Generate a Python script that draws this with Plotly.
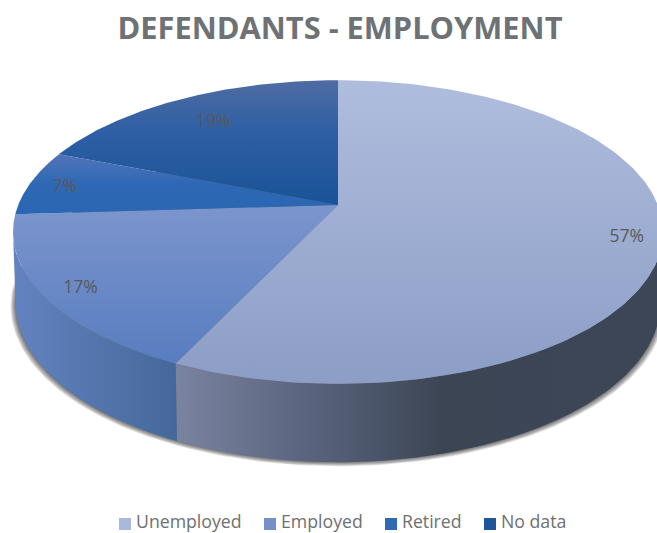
import numpy as np
import plotly.graph_objects as go

# ---- data ----
categories = ["Unemployed", "Employed", "Retired", "No data"]
values = [57, 17, 7, 19]
chart_title = "DEFENDANTS - EMPLOYMENT"

# ---- style ----
top_gradients = [
    [[0, "#afbddd"], [1, "#8c9dc6"]],
    [[0, "#7c95cd"], [1, "#587dc0"]],
    [[0, "#5274b8"], [0.5, "#2e68b4"], [1, "#2a66b3"]],
    [[0, "#4f6ca2"], [0.4, "#2f5fa4"], [1, "#195397"]],
]
wall_gradients = [
    [[0, "#7a84a0"], [0.25, "#5c6680"], [0.55, "#3c4554"], [1, "#3d4657"]],
    [[0, "#6283c0"], [1, "#45689a"]],
]
legend_colors = ["#a9b9db", "#7590c9", "#2f69b4", "#1f5599"]
legend_x = [125, 270, 391, 490]
label_radius = [0.89, 0.89, 0.89, 0.78]

# ---- projection of the pie disc on the page ----
CX, CY = 338.0, 205.0
K, KY, C = 319.8, 147.0, 0.178
DEPTH = 70.0


def top(theta, r=1.0):
    u, v = r * np.sin(theta), r * np.cos(theta)
    w = 1 + C * v
    return CX + K * u / w, CY - KY * v / w


def bottom(theta, grow=0.0):
    u, v = np.sin(theta), np.cos(theta)
    x, y = top(theta)
    d = DEPTH / (1 + 0.6 * C * v)
    return CX + (x - CX) * (0.992 + grow / 325), y + d + grow * (0.5 - 0.3 * v)


fracs = np.array(values, dtype=float) / sum(values)
edges = np.concatenate([[0], np.cumsum(fracs)]) * 2 * np.pi
right_tan = np.arccos(-C)
left_tan = 2 * np.pi - right_tan

fig = go.Figure()

# soft shadow beneath the disc
theta_all = np.linspace(0, 2 * np.pi, 361)
for g in [5, 4, 3, 2, 1, 0.4]:
    x, y = bottom(theta_all, g)
    fig.add_trace(go.Scatter(x=x, y=y, mode="lines", fill="toself", line=dict(width=0),
                             fillcolor="rgba(50,52,50,0.16)", hoverinfo="skip", showlegend=False))

# side walls of the front slices
for i in range(len(values)):
    a = max(edges[i], right_tan)
    b = min(edges[i + 1], left_tan)
    if b <= a or i >= len(wall_gradients):
        continue
    t = np.linspace(a, b, 120)
    xt, yt = top(t)
    xb, yb = bottom(t)
    x = np.concatenate([xt, xb[::-1]])
    y = np.concatenate([yt, yb[::-1]])
    fig.add_trace(go.Scatter(
        x=x, y=y, mode="lines", line=dict(width=0), fill="toself", hoverinfo="skip", showlegend=False,
        fillgradient=dict(type="horizontal", colorscale=wall_gradients[i],
                          start=float(x.min()), stop=float(x.max()))))

# top faces
for i in range(len(values)):
    t = np.linspace(edges[i], edges[i + 1], 160)
    xa, ya = top(t)
    x = np.concatenate([[CX], xa, [CX]])
    y = np.concatenate([[CY], ya, [CY]])
    fig.add_trace(go.Scatter(
        x=x, y=y, mode="lines", line=dict(width=0), fill="toself", name=categories[i],
        hoverinfo="skip", showlegend=False,
        fillgradient=dict(type="vertical", colorscale=top_gradients[i],
                          start=float(y.min()), stop=float(y.max()))))

# percentage labels
mid = (edges[:-1] + edges[1:]) / 2
lx, ly = top(mid, np.array(label_radius))
fig.add_trace(go.Scatter(
    x=lx + 1, y=ly + 3, mode="text", text=[f"{v}%" for v in values], hoverinfo="skip", showlegend=False,
    textfont=dict(family="Open Sans", size=17.5, color="#595959")))

# legend row
for name, col, lxx in zip(categories, legend_colors, legend_x):
    fig.add_trace(go.Scatter(
        x=[lxx], y=[524], mode="markers", name=name,
        marker=dict(symbol="square", size=12, color=col), hoverinfo="skip", showlegend=False))
    fig.add_trace(go.Scatter(
        x=[lxx + 11], y=[524], mode="text", text=[name], textposition="middle right",
        hoverinfo="skip", showlegend=False, cliponaxis=False,
        textfont=dict(family="Open Sans", size=17.7, color="#6d7072")))

fig.update_layout(
    width=657, height=533, margin=dict(l=0, r=0, t=0, b=0),
    paper_bgcolor="white", plot_bgcolor="white", showlegend=False,
    title=dict(text=f"<b>{chart_title}</b>", x=340 / 657, xanchor="center", y=0.947, yanchor="middle",
               font=dict(family="Open Sans", size=30.8, color="#6e7275")),
    xaxis=dict(visible=False, range=[0, 657], fixedrange=True),
    yaxis=dict(visible=False, range=[533, 0], fixedrange=True),
)
fig.write_html("out.html", config=dict(displayModeBar=False),
               post_script="document.body.style.margin='0';document.documentElement.style.overflow='hidden';")
